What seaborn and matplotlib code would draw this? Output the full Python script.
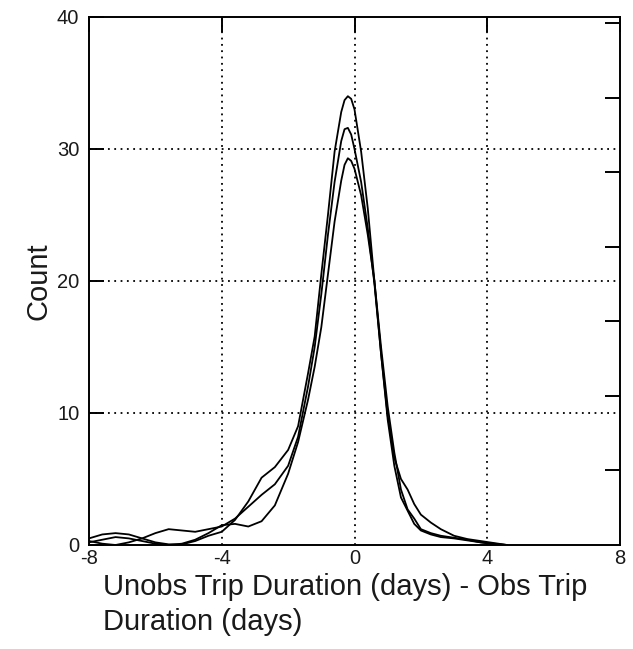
import numpy as np
import pandas as pd
import matplotlib
matplotlib.use("Agg")
import matplotlib.pyplot as plt
import seaborn as sns

# Difference between unobserved and observed trip duration (days)
diff_days = [-8.0, -7.6, -7.2, -6.8, -6.4, -6.0, -5.6, -5.2, -4.8, -4.4,
             -4.0, -3.6, -3.2, -2.8, -2.4, -2.0, -1.7, -1.4, -1.2, -1.0,
             -0.8, -0.6, -0.4, -0.3, -0.2, -0.1, 0.0, 0.2, 0.4, 0.6, 0.8, 1.0,
             1.2, 1.4, 1.6, 1.8, 2.0, 2.3, 2.6, 3.0, 3.4, 3.8, 4.2, 4.6]

count_a = [0.5, 0.8, 0.9, 0.8, 0.5, 0.2, 0.05, 0.05, 0.3, 0.7,
           1.0, 1.9, 3.3, 5.1, 5.9, 7.2, 9.0, 13.0, 15.8, 20.5,
           25.0, 29.8, 32.8, 33.7, 34.0, 33.8, 33.0, 29.8, 25.5, 20.0, 14.5, 9.5,
           6.0, 3.6, 2.6, 1.6, 1.1, 0.8, 0.6, 0.5, 0.35, 0.2, 0.05, 0.0]

count_b = [0.3, 0.1, 0.0, 0.2, 0.5, 0.9, 1.2, 1.1, 1.0, 1.2,
           1.4, 2.0, 2.9, 3.8, 4.6, 6.0, 8.2, 12.0, 15.0, 19.0,
           23.5, 27.5, 30.6, 31.5, 31.6, 31.1, 30.0, 27.5, 24.0, 19.8, 14.5, 9.8,
           6.6, 5.0, 4.2, 3.1, 2.3, 1.7, 1.2, 0.7, 0.45, 0.3, 0.15, 0.0]

count_c = [0.2, 0.4, 0.6, 0.5, 0.3, 0.1, 0.0, 0.1, 0.4, 0.9,
           1.5, 1.6, 1.4, 1.8, 3.0, 5.4, 7.8, 11.0, 13.5, 16.5,
           20.5, 24.5, 27.6, 28.8, 29.3, 29.1, 28.5, 26.5, 23.5, 20.0, 15.0, 10.5,
           7.0, 4.2, 2.7, 2.0, 1.2, 0.9, 0.7, 0.55, 0.4, 0.2, 0.1, 0.0]

x_ticks = [-8, -4, 0, 4, 8]
y_ticks = [0, 10, 20, 30, 40]

df = pd.concat([
    pd.DataFrame({"diff": diff_days, "count": c, "series": name})
    for name, c in (("a", count_a), ("b", count_b), ("c", count_c))
])

sns.set_style("white")
plt.rcParams["font.family"] = ["Liberation Sans", "DejaVu Sans"]

fig = plt.figure(figsize=(6.33, 6.49), dpi=100)
ax = fig.add_axes([89 / 633, 1 - 545 / 649, 531 / 633, 528 / 649])

sns.lineplot(data=df, x="diff", y="count", hue="series",
             palette=["black", "black", "black"], linewidth=1.3,
             legend=False, ax=ax, sort=False)

ax.set_xlim(-8, 8)
ax.set_ylim(0, 40)
ax.set_xticks(x_ticks)
ax.set_yticks(y_ticks)
ax.set_xticklabels([str(v) for v in x_ticks])
ax.set_yticklabels([str(v) for v in y_ticks])

for v in x_ticks[1:-1]:
    ax.axvline(v, color="black", linestyle=(0, (1, 2.5)), linewidth=1.3, zorder=0)
for v in y_ticks[1:-1]:
    ax.axhline(v, color="black", linestyle=(0, (1, 2.5)), linewidth=1.3, zorder=0)

for s in ax.spines.values():
    s.set_visible(True)
    s.set_color("black")
    s.set_linewidth(1.4)

ax.tick_params(axis="both", direction="in", length=11, width=1.4,
               colors="black", labelcolor="#1a1a1a", labelsize=14.5,
               top=True, right=False)
ax.tick_params(axis="x", pad=3)
ax.tick_params(axis="y", pad=7)

# density scale on the right side, ticks only
ax2 = ax.twinx()
ax2.set_ylim(0, 40 / 565)
ax2.set_yticks([0.01, 0.02, 0.03, 0.04, 0.05, 0.06, 0.07])
ax2.tick_params(axis="y", direction="in", length=11, width=1.4,
                colors="black", labelright=False)
for s in ax2.spines.values():
    s.set_visible(False)

ax.set_xlabel("Unobs Trip Duration (days) - Obs Trip\nDuration (days)",
              fontsize=21, color="#1a1a1a", ha="left", va="top",
              linespacing=1.3)
ax.xaxis.set_label_coords(14 / 531, -28 / 528)
ax.set_ylabel("Count", fontsize=21, color="#1a1a1a", va="center")
ax.yaxis.set_label_coords(-51 / 531, 0.5)

fig.savefig("out.png", dpi=100, facecolor="white")
